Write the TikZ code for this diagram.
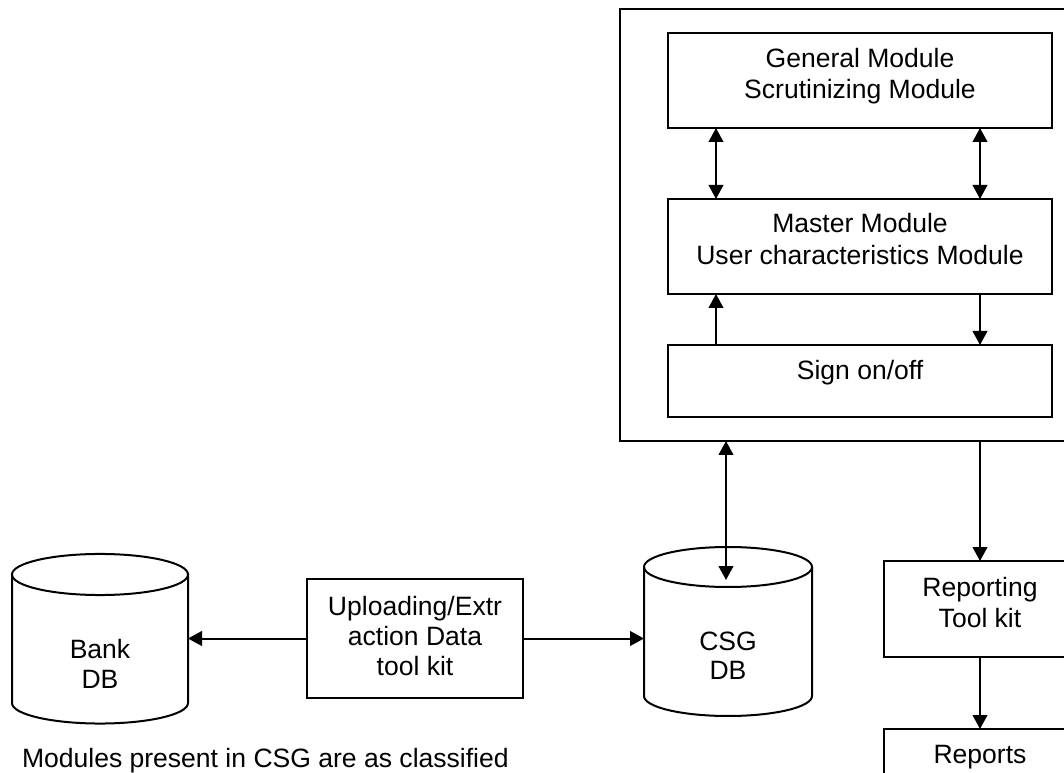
\documentclass[tikz,border=0pt]{standalone}
\usepackage{fontspec}
\setmainfont{Liberation Sans}
\usetikzlibrary{arrows.meta,calc}

\begin{document}
\begin{tikzpicture}[
  x=0.75pt, y=-0.75pt,
  line width=1.5pt,
  every node/.style={font=\fontsize{19.9pt}{23pt}\selectfont},
  box/.style={draw, rectangle, inner sep=0pt, outer sep=0pt},
  txt/.style={inner sep=0pt, anchor=base},
  hold/.style={inner sep=0pt, outer sep=0pt, rectangle},
  arr/.style={-{Triangle[length=10.5pt, width=11pt]}},
  dbl/.style={{Triangle[length=10.5pt, width=11pt]}-{Triangle[length=10.5pt, width=11pt]}},
]
\useasboundingbox (0,0) rectangle (1064,773);
\clip (0,0) rectangle (1064,773);

% ---- CSG application frame and its modules ----
\node[box, minimum width=345pt, minimum height=324pt] (frame) at (850,225) {};
\node[box, minimum width=288pt, minimum height=71.25pt] (gen) at (860,80.5) {};
\node[box, minimum width=288pt, minimum height=71.25pt] (mas) at (860,246.5) {};
\node[box, minimum width=288pt, minimum height=54pt] (sig) at (860,381) {};

\node[txt] (gen1) at (860,68) {General Module};
\node[txt] (gen2) at (860,99) {Scrutinizing Module};
\node[txt] (mas1) at (860,233) {Master Module};
\node[txt] (mas2) at (860,265) {User characteristics Module};
\node[txt] (sig1) at (860,380) {Sign on/off};

% ---- tool kits and reports ----
\node[box, minimum width=162pt, minimum height=89.25pt] (up) at (415,638.5) {};
\node[txt] (up1) at (415,615) {Uploading/Extr};
\node[txt] (up2) at (415,645) {action Data};
\node[txt] (up3) at (415,675) {tool kit};

\node[box, minimum width=144pt, minimum height=72pt] (rep) at (980,609) {};
\node[txt] (rep1) at (980,596) {Reporting};
\node[txt] (rep2) at (980,627) {Tool kit};

\node[box, minimum width=144pt, minimum height=72pt] (rpts) at (980,777) {};
\node[txt] (rpts1) at (980,763) {Reports};

% ---- databases (cylinders) ----
\node[hold, minimum width=132pt, minimum height=96.4pt] (bank) at (100,638.75) {};
\draw (100,574.5) ellipse [x radius=66pt, y radius=15.4pt];
\draw (12,574.5) -- (12,703) arc[start angle=180, end angle=360, x radius=66pt, y radius=15.4pt] -- (188,574.5);
\node[txt] (bank1) at (100,658) {Bank};
\node[txt] (bank2) at (100,688) {DB};

\node[hold, minimum width=126pt, minimum height=96.75pt] (csg) at (728,631.5) {};
\draw (728,567) ellipse [x radius=63pt, y radius=15pt];
\draw (644,567) -- (644,696) arc[start angle=180, end angle=360, x radius=63pt, y radius=15pt] -- (812,567);
\node[txt] (csg1) at (728,650) {CSG};
\node[txt] (csg2) at (728,679) {DB};
\coordinate (csgtop) at (726,580);

% ---- connectors ----
\coordinate (lx) at ($(gen.south west)+(48,0)$);
\draw[dbl] (lx) -- (lx |- mas.north);
\draw[dbl] (rep.north |- gen.south) -- (rep.north |- mas.north);
\draw[arr] (lx |- sig.north) -- (lx |- mas.south);
\draw[arr] (rep.north |- mas.south) -- (rep.north |- sig.north);

\draw[dbl] (csgtop |- frame.south) -- (csgtop);
\draw[arr] (rep.north |- frame.south) -- (rep.north);
\draw[arr] (rep.south) -- (rpts.north);

\draw[arr] (up.west) -- (up.west -| bank.east);
\draw[arr] (up.east) -- (up.east -| csg.west);

% ---- caption ----
\node[inner sep=0pt, anchor=base west] (cap) at (21,767) {Modules present in CSG are as classified};
\end{tikzpicture}
\end{document}
